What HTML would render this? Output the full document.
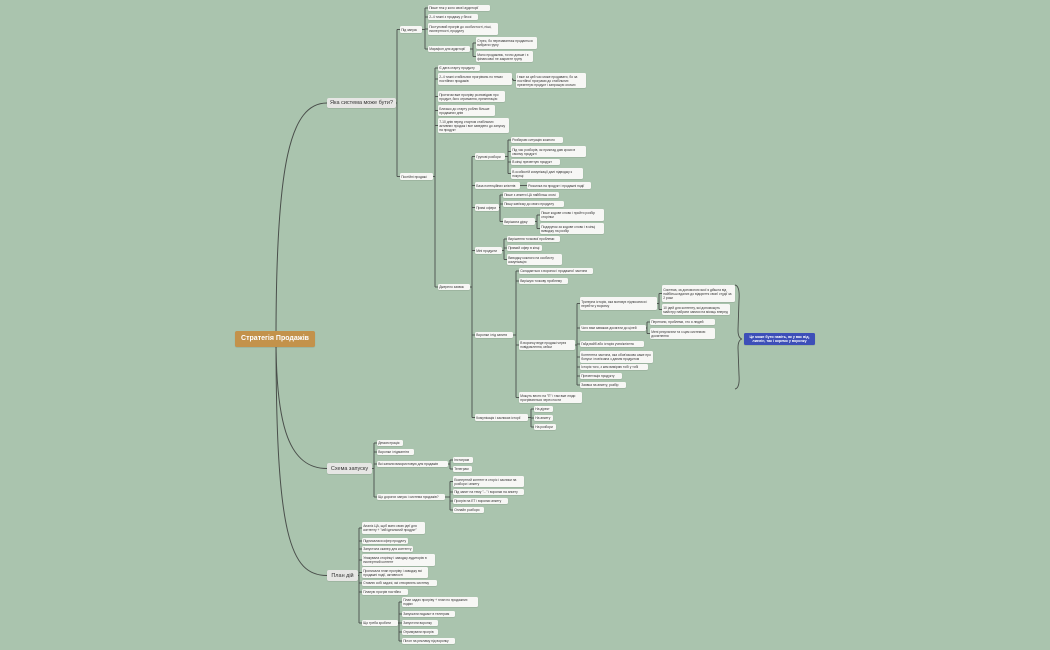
<!DOCTYPE html>
<html><head><meta charset="utf-8"><style>
html,body{margin:0;padding:0;}
body{width:1050px;height:650px;background:#aac4ae;position:relative;overflow:hidden;font-family:"Liberation Sans",sans-serif;}
svg{position:absolute;left:0;top:0;}
.n{position:absolute;background:#f7f7f5;border-radius:1.5px;font-size:3.3px;line-height:4px;color:#333;padding:0.5px 1.2px;box-sizing:border-box;display:flex;align-items:center;box-shadow:0 0.5px 0.8px rgba(0,0,0,.15);overflow:hidden;}
.l1{background:#e6e6e4;font-size:5.5px;color:#333;justify-content:center;border-radius:2px;white-space:nowrap;}
.root{background:#c3924b;color:#fff;font-size:7px;font-weight:bold;justify-content:center;border-radius:2px;white-space:nowrap;}
.sum{background:#3d4fb8;color:#fff;font-size:3.6px;font-weight:bold;text-align:center;justify-content:center;}
</style></head><body>
<svg id="s" width="1050" height="650"></svg>
<div id="c"></div>
<script>
var N=[
["root",235,331,80,16,"Стратегія Продажів",null,"root"],
["a",327,98,69,10,"Яка система може бути?","root","l1"],
["b",327,463,45,11,"Схема запуску","root","l1"],
["p",327,570,31,11,"План дій","root","l1"],
["a1",400,26,22,7,"Під запуск","a"],
["a2",400,173,33,7,"Постійні продажі","a"],
["a11",428,5,62,6,"Пише теж у коло своєї аудиторії","a1"],
["a12",428,14,50,6,"2–4 тижні з продажу у блозі","a1"],
["a13",428,23,70,12,"Поступовий прогрів до особистості, ніші, експертності, продукту","a1"],
["a14",428,46,42,6,"Марафон для аудиторії","a1"],
["a141",476,37,61,12,"Стрес, бо перезавантаж продається вибрати групу","a14"],
["a142",476,51,57,11,"Мало продажник, точно довше і є фінансової не закриєте групу","a14"],
["c1",438,65,42,6,"Є дата старту продукту","a2"],
["c2",438,73,74,12,"2–4 тижні стабільних прогрівань по темах постійних продажів","a2"],
["c21",516,73,70,15,"І вже за цей час може продавати, бо за постійної програми до стабільних презентую продукт і запрошую охочих","c2"],
["c3",438,91,67,11,"Протягом вже прогріву розповідаю про продукт, його отримання, презентацію","a2"],
["c4",438,105,57,11,"Близько до старту роблю більше продажних днів","a2"],
["c5",438,118,71,15,"7-10 днів перед стартом стабільних активних продаж і все заведено до запуску на продукт","a2"],
["c6",438,284,32,6,"Джерело заявок","a2"],
["d1",475,153,30,7,"Групові розбори","c6"],
["d11",511,137,52,6,"Розбираю ситуацію кожного","d1"],
["d12",511,146,75,11,"Під час розборів, як приклад даю кроки в своєму продукті","d1"],
["d13",511,159,49,6,"В кінці презентую продукт","d1"],
["d14",511,168,72,11,"В особистій комунікації далі підводжу к покупці","d1"],
["d2",475,182,45,7,"База потенційних клієнтів","c6"],
["d21",527,182,64,7,"Розсилка на продукт і продажні події","d2"],
["d3",475,204,24,7,"Прямі офери","c6"],
["d31",503,192,56,6,"Пише з анкети ЦА найбільш охочі","d3"],
["d32",503,201,61,6,"Пишу кав'язку до свого продукту","d3"],
["d33",503,218,32,7,"Вирішила дірку","d3"],
["d331",540,209,64,12,"Пише кодове слово і пройти розбір сторінки","d33"],
["d332",540,223,64,11,"Подарунок за кодове слово і в кінці виводжу на розбір","d33"],
["d4",475,247,27,7,"Міні продукти","c6"],
["d41",507,236,53,6,"Вирішення точкової проблеми","d4"],
["d42",507,245,35,6,"Прямий офер в кінці","d4"],
["d43",507,254,55,11,"Виводжу кожного на особисту комунікацію","d4"],
["d5",475,332,38,6,"Воронки і під запити","c6"],
["e1",519,268,74,6,"Складається з воронок і продажної частини","d5"],
["e2",519,278,49,6,"Вирішую точкову проблему","d5"],
["e3",519,340,56,10,"В воронку веде продажі через повідомлення, кейси","d5"],
["f1",580,297,77,13,"Тригерна історія, яка мотивує підписатися і перейти у воронку","e3"],
["f11",662,285,73,17,"Система, за допомогою якої я дійшла від найбільш вдалих до відкриття своєї студії за 2 роки","f1"],
["f12",662,304,68,11,"10 ідей для контенту, які допоможуть майстру набрати записи на місяць вперед","f1"],
["f2",580,325,66,6,"Чого вам заважає досягати до цілей","e3"],
["f21",650,319,65,6,"Перепони, проблеми, хто я людей","f2"],
["f22",650,328,65,11,"Мені результати та з цим системою досягнення","f2"],
["f3",580,341,64,6,"Гайд вайб або історія учня/клієнта","e3"],
["f4",580,351,73,12,"Контентна частина, яка обов'язково каже про бонуси і пов'язана з даним продуктом","e3"],
["f5",580,364,68,6,"Історія того, з ким виміряю тобі у тобі","e3"],
["f6",580,373,42,6,"Презентація продукту","e3"],
["f7",580,382,46,6,"Заявка на анкету, розбір","e3"],
["e4",519,392,63,11,"Можуть вести на \"П\" і там вже люди прогріваються через пости","d5"],
["d6",475,414,53,7,"Комунікація і закликає історії","c6"],
["d61",534,406,19,6,"На дірект","d6"],
["d62",534,415,19,6,"На анкету","d6"],
["d63",534,424,22,6,"На розбори","d6"],
["b1",377,440,26,6,"Демонстрація","b"],
["b2",377,449,37,6,"Воронки і підмагніти","b"],
["b3",377,461,71,6,"Всі канали використовую для продажів","b"],
["b31",453,457,20,6,"Інстаграм","b3"],
["b32",453,466,19,6,"Телеграм","b3"],
["b4",377,494,68,6,"Що дорогих запуск і система продажів?","b"],
["b41",453,476,71,11,"Експертний контент в сторіс і заклики на розбори і анкету","b4"],
["b42",453,489,71,6,"Під запит на тему \"...\" і воронки на анкету","b4"],
["b43",453,498,55,6,"Прогрів на ЕТ і воронки анкету","b4"],
["b44",453,507,31,6,"Онлайн розбори","b4"],
["p1",362,522,63,12,"Аналіз ЦА, щоб мати свою ідеї для контенту + \"мій ідеальний продукт\"","p"],
["p2",362,538,46,6,"Підписалася офер продукту","p"],
["p3",362,546,51,6,"Запустила сканер для контенту","p"],
["p4",362,554,73,12,"Упакувала сторінку і заводжу аудиторію в експертний контент","p"],
["p5",362,567,66,11,"Прописала план прогріву і заводжу всі продажні події, активності","p"],
["p6",362,580,75,6,"Ставлю собі задачі, які створюють систему","p"],
["p7",362,589,46,6,"Планую прогрів постійно","p"],
["p8",362,620,36,6,"Що треба зробити","p"],
["p81",402,597,76,10,"План задач прогріву + план по продажних подіях","p8"],
["p82",402,611,53,6,"Запускати подкаст в телеграм","p8"],
["p83",402,620,36,6,"Запустити воронку","p8"],
["p84",402,629,36,6,"Отримувати прогрів","p8"],
["p85",402,638,53,6,"Пілон на рекламу під воронку","p8"]
];
var M={},K={};N.forEach(function(n){M[n[0]]=n;if(n[6]){(K[n[6]]=K[n[6]]||[]).push(n);}});
var s=document.getElementById('s'),h='',c='';
var col='#4a4f4b';
for(var p in K){var P=M[p];var ch=K[p];var py=P[2]+P[4]/2;
 if(p==='root'){ch.forEach(function(k){var ky=k[2]+k[4]/2;
  h+='<path d="M276 339 C276 '+(ky+(ky<339?60:-40))+' 290 '+ky+' '+k[1]+' '+ky+'" fill="none" stroke="'+col+'" stroke-width="1"/>';});continue;}
 var px=P[1]+P[3];var bx=ch[0][1]-3;
 var ys=ch.map(function(k){return k[2]+k[4]/2;});ys.push(py);
 var mn=Math.min.apply(null,ys),mx=Math.max.apply(null,ys);
 h+='<line x1="'+px+'" y1="'+py+'" x2="'+bx+'" y2="'+py+'" stroke="'+col+'" stroke-width="0.9"/>';
 h+='<line x1="'+bx+'" y1="'+mn+'" x2="'+bx+'" y2="'+mx+'" stroke="'+col+'" stroke-width="0.9"/>';
 ch.forEach(function(k){var ky=k[2]+k[4]/2;h+='<line x1="'+bx+'" y1="'+ky+'" x2="'+k[1]+'" y2="'+ky+'" stroke="'+col+'" stroke-width="0.9"/>';});
}
h+='<path d="M735 285 Q740 286 739 300 L738 330 Q738 338 742 339 Q738 340 738 348 L739 375 Q740 388 735 389" fill="none" stroke="'+col+'" stroke-width="0.9"/>';
s.innerHTML=h;
N.forEach(function(n){c+='<div class="n '+(n[7]||'')+'" style="left:'+n[1]+'px;top:'+n[2]+'px;width:'+n[3]+'px;height:'+n[4]+'px">'+n[5]+'</div>';});
c+='<div class="n sum" style="left:744px;top:333px;width:71px;height:12px">Це може бути навіть, як у вас від, лиелін, так і окремо у воронку</div>';
document.getElementById('c').innerHTML=c;
</script>
</body></html>
